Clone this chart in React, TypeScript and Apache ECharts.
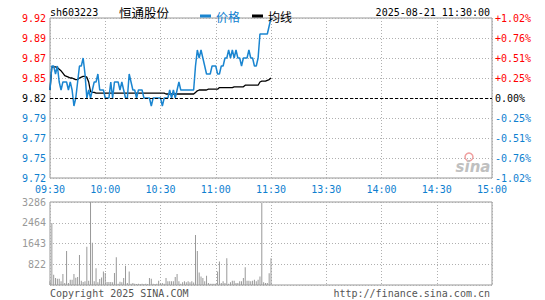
import React, { useEffect, useRef } from "react";
import * as echarts from "echarts";

const stockCode = "sh603223";
const stockName = "恒通股份";
const dateTime = "2025-08-21 11:30:00";
const prevClose = 9.82;

const timeLabels = ["09:30", "10:00", "10:30", "11:00", "11:30", "13:30", "14:00", "14:30", "15:00"];
const priceTicks = [9.72, 9.745, 9.77, 9.795, 9.82, 9.845, 9.87, 9.895, 9.92];
const priceTickLabels = ["9.72", "9.75", "9.77", "9.79", "9.82", "9.85", "9.87", "9.89", "9.92"];
const pctTickLabels = ["-1.02%", "-0.76%", "-0.51%", "-0.25%", "0.00%", "+0.25%", "+0.51%", "+0.76%", "+1.02%"];
const volTicks = [0, 822, 1643, 2464, 3286];
const volTickLabels = ["", "822", "1643", "2464", "3286"];

const price = [
  9.83, 9.86, 9.86, 9.85, 9.86, 9.84, 9.83, 9.84, 9.84, 9.84,
  9.83, 9.84, 9.83, 9.81, 9.82, 9.84, 9.86, 9.86, 9.87, 9.85,
  9.82, 9.83, 9.82, 9.83, 9.84, 9.84, 9.85, 9.83, 9.83, 9.83,
  9.82, 9.82, 9.82, 9.84, 9.82, 9.84, 9.84, 9.84, 9.83, 9.84,
  9.83, 9.82, 9.82, 9.85, 9.84, 9.83, 9.83, 9.82, 9.83, 9.83,
  9.83, 9.82, 9.82, 9.82, 9.82, 9.81, 9.82, 9.82, 9.82, 9.82,
  9.82, 9.81, 9.82, 9.82, 9.82, 9.83, 9.82, 9.83, 9.82, 9.83,
  9.84, 9.83, 9.83, 9.83, 9.83, 9.83, 9.83, 9.83, 9.83, 9.86,
  9.88, 9.87, 9.88, 9.87, 9.86, 9.85, 9.85, 9.85, 9.86, 9.86,
  9.86, 9.85, 9.85, 9.86, 9.86, 9.87, 9.87, 9.88, 9.87, 9.88,
  9.87, 9.88, 9.87, 9.87, 9.86, 9.87, 9.87, 9.87, 9.88, 9.87,
  9.87, 9.86, 9.86, 9.87, 9.90, 9.90, 9.90, 9.90, 9.90, 9.91,
  9.92,
];

const avgPrice = [
  9.830, 9.859, 9.859, 9.859, 9.858, 9.856, 9.854, 9.851, 9.848, 9.847,
  9.846, 9.845, 9.845, 9.844, 9.843, 9.843, 9.845, 9.846, 9.847, 9.847,
  9.846, 9.840, 9.828, 9.827, 9.827, 9.826, 9.826, 9.826, 9.826, 9.826,
  9.826, 9.826, 9.826, 9.826, 9.826, 9.826, 9.826, 9.826, 9.826, 9.826,
  9.826, 9.826, 9.826, 9.826, 9.826, 9.826, 9.826, 9.826, 9.826, 9.826,
  9.826, 9.826, 9.826, 9.826, 9.826, 9.826, 9.826, 9.826, 9.826, 9.826,
  9.826, 9.826, 9.826, 9.825, 9.825, 9.825, 9.825, 9.825, 9.825, 9.825,
  9.825, 9.825, 9.825, 9.825, 9.825, 9.825, 9.825, 9.825, 9.825, 9.827,
  9.829, 9.830, 9.830, 9.830, 9.830, 9.830, 9.831, 9.831, 9.831, 9.831,
  9.831, 9.831, 9.833, 9.833, 9.833, 9.833, 9.833, 9.833, 9.833, 9.833,
  9.834, 9.834, 9.834, 9.834, 9.834, 9.834, 9.836, 9.836, 9.836, 9.836,
  9.836, 9.836, 9.836, 9.836, 9.840, 9.841, 9.841, 9.841, 9.842, 9.843,
  9.845,
];

const volume = [
  150, 2450, 406, 275, 249, 249, 150, 432, 80, 1350,
  80, 210, 210, 432, 288, 314, 1190, 170, 120, 144,
  1518, 170, 3286, 1676, 144, 668, 105, 236, 301, 537,
  471, 118, 118, 118, 105, 471, 1100, 52, 131, 105,
  275, 760, 80, 537, 52, 80, 52, 40, 52, 40,
  52, 40, 52, 40, 275, 249, 52, 40, 52, 170,
  52, 80, 52, 275, 144, 144, 144, 144, 314, 432,
  144, 52, 105, 144, 105, 144, 105, 144, 100, 1977,
  1350, 497, 340, 275, 144, 367, 80, 52, 52, 52,
  52, 537, 930, 80, 144, 80, 1060, 52, 105, 170,
  170, 80, 80, 144, 144, 275, 707, 170, 170, 144,
  170, 210, 144, 210, 340, 3250, 105, 80, 80, 470,
  1060,
];

const MONO = "'DejaVu Sans Mono', 'Liberation Mono', monospace";
const CJK = "'Noto Sans CJK SC', sans-serif";
const RED = "#ff0000";
const BLUE = "#0e80d0";
const LINE_BLUE = "#1a85d0";
const GRID_LINE = { show: true, lineStyle: { color: "#b0b0b0", type: [1, 2] as any, width: 1 } };

function tickIndex(v: number, ticks: number[]) {
  for (let i = 0; i < ticks.length; i++) if (Math.abs(ticks[i] - v) < 1e-6) return i;
  return -1;
}
function colorFor(v: number) {
  if (Math.abs(v - prevClose) < 1e-6) return "#000";
  return v > prevClose ? RED : BLUE;
}

export default function App() {
  const ref = useRef<HTMLDivElement>(null);
  useEffect(() => {
    document.body.style.margin = "0";
    const chart = echarts.init(ref.current!, null, { renderer: "svg" });
    const option: any = {
      animation: false,
      backgroundColor: "#fff",
      grid: [
        { left: 50, top: 18, width: 442, height: 160, show: true, borderColor: "#999", borderWidth: 1 },
        { left: 50, top: 202, width: 442, height: 83, show: true, borderColor: "#999", borderWidth: 1 },
      ],
      legend: {
        left: 195,
        top: 5,
        icon: "rect",
        itemWidth: 11,
        itemHeight: 3,
        itemGap: 12,
        selectedMode: false,
        textStyle: { fontSize: 12, fontFamily: CJK },
        data: [
          { name: "价格", textStyle: { color: BLUE } },
          { name: "均线", textStyle: { color: "#000" } },
        ],
      },
      xAxis: [
        {
          type: "value", gridIndex: 0, min: 0, max: 240, interval: 30,
          axisLine: { show: false }, axisTick: { show: false },
          axisLabel: {
            show: true, margin: 6, color: BLUE, fontSize: 10, fontFamily: MONO,
            showMinLabel: true, showMaxLabel: true,
            formatter: (v: number) => timeLabels[Math.round(v / 30)] ?? "",
          },
          splitLine: GRID_LINE,
        },
        {
          type: "value", gridIndex: 1, min: 0, max: 240, interval: 30,
          axisLine: { show: false }, axisTick: { show: false }, axisLabel: { show: false },
          splitLine: GRID_LINE,
        },
      ],
      yAxis: [
        {
          type: "value", gridIndex: 0, min: 9.72, max: 9.92, position: "left",
          axisLine: { show: false },
          axisTick: { show: false, customValues: priceTicks },
          axisLabel: {
            customValues: priceTicks, margin: 4, fontSize: 10, fontFamily: MONO,
            showMinLabel: true, showMaxLabel: true,
            formatter: (v: number) => priceTickLabels[tickIndex(v, priceTicks)] ?? "",
            color: (v: any) => colorFor(Number(v)),
          },
          splitLine: GRID_LINE,
        },
        {
          type: "value", gridIndex: 0, min: 9.72, max: 9.92, position: "right",
          axisLine: { show: false },
          axisTick: { show: false, customValues: priceTicks },
          axisLabel: {
            customValues: priceTicks, margin: 3, fontSize: 10, fontFamily: MONO,
            showMinLabel: true, showMaxLabel: true,
            formatter: (v: number) => pctTickLabels[tickIndex(v, priceTicks)] ?? "",
            color: (v: any) => colorFor(Number(v)),
          },
          splitLine: { show: false },
        },
        {
          type: "value", gridIndex: 1, min: 0, max: 3286, position: "left",
          axisLine: { show: false },
          axisTick: { show: false, customValues: volTicks },
          axisLabel: {
            customValues: volTicks, margin: 4, fontSize: 10, fontFamily: MONO, color: "#999",
            showMinLabel: true, showMaxLabel: true,
            formatter: (v: number) => volTickLabels[tickIndex(v, volTicks)] ?? "",
          },
          splitLine: GRID_LINE,
        },
      ],
      series: [
        {
          name: "价格", type: "line", xAxisIndex: 0, yAxisIndex: 0,
          data: price.map((p, i) => [i, p]),
          showSymbol: false, symbol: "none",
          lineStyle: { color: LINE_BLUE, width: 1.5 },
          itemStyle: { color: LINE_BLUE },
          z: 3,
          markLine: {
            silent: true, symbol: ["none", "none"], label: { show: false },
            lineStyle: { color: "#000", type: [3, 2], width: 1 },
            data: [{ yAxis: prevClose }],
          },
        },
        {
          name: "均线", type: "line", xAxisIndex: 0, yAxisIndex: 0,
          data: avgPrice.map((p, i) => [i, p]),
          showSymbol: false, symbol: "none",
          lineStyle: { color: "#000", width: 1.3 },
          itemStyle: { color: "#000" },
          z: 2,
        },
        {
          name: "成交量", type: "bar", xAxisIndex: 1, yAxisIndex: 2,
          data: volume.map((v, i) => [i, v]),
          barWidth: 1,
          itemStyle: { color: "#999" },
        },
      ],
      graphic: [
        { type: "text", x: 50, y: 12, style: { text: stockCode, fontFamily: MONO, fontSize: 10, fill: "#000", textAlign: "left", textVerticalAlign: "middle" } },
        { type: "text", x: 119, y: 12, style: { text: stockName, fontFamily: CJK, fontSize: 12.5, fill: "#000", textAlign: "left", textVerticalAlign: "middle" } },
        { type: "text", x: 490, y: 12, style: { text: dateTime, fontFamily: MONO, fontSize: 10, fill: "#000", textAlign: "right", textVerticalAlign: "middle" } },
        { type: "text", x: 50, y: 293, style: { text: "Copyright 2025 SINA.COM", fontFamily: MONO, fontSize: 10, fill: "#555", textAlign: "left", textVerticalAlign: "middle" } },
        { type: "text", x: 490, y: 293, style: { text: "http://finance.sina.com.cn", fontFamily: MONO, fontSize: 10, fill: "#555", textAlign: "right", textVerticalAlign: "middle" } },
        { type: "circle", shape: { cx: 469, cy: 157, r: 4 }, style: { fill: "none", stroke: "#f0a0a0", lineWidth: 1.5 } },
        { type: "text", x: 473, y: 167, style: { text: "sina", fontFamily: "'DejaVu Sans', sans-serif", fontSize: 15, fontStyle: "italic", fontWeight: "bold", fill: "#c0c0c0", textAlign: "center", textVerticalAlign: "middle" } },
      ],
    };
    chart.setOption(option);
    return () => chart.dispose();
  }, []);
  return <div ref={ref} style={{ width: 545, height: 300 }} />;
}
